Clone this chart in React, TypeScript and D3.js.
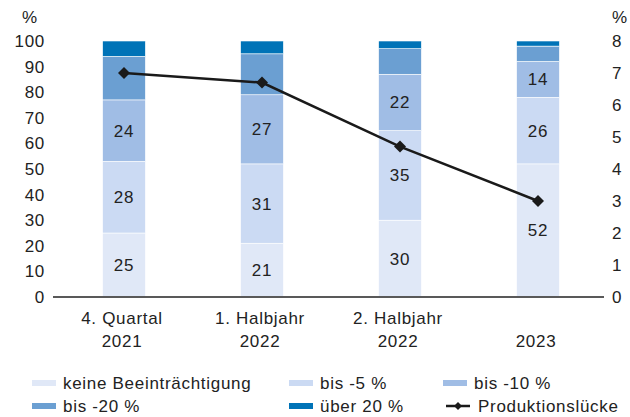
import { useEffect, useRef } from 'react';
import * as d3 from 'd3';

const categories = [['4. Quartal', '2021'], ['1. Halbjahr', '2022'], ['2. Halbjahr', '2022'], ['', '2023']];
const seriesNames = ['keine Beeinträchtigung', 'bis -5 %', 'bis -10 %', 'bis -20 %', 'über 20 %'];
const seriesColors = ['#e0e8f7', '#cbdaf3', '#a0bde5', '#6b9fd2', '#0073b7'];
const keine = [25, 21, 30, 52];
const bis5 = [28, 31, 35, 26];
const bis10 = [24, 27, 22, 14];
const bis20 = [17, 16, 10, 6];
const ueber20 = [6, 5, 3, 2];
const luecke = [7.0, 6.7, 4.7, 3.0];
const leftTicks = [0, 10, 20, 30, 40, 50, 60, 70, 80, 90, 100];
const rightTicks = [0, 1, 2, 3, 4, 5, 6, 7, 8];
const lineName = 'Produktionslücke';

const App = () => {
  const svgRef = useRef<SVGSVGElement>(null);

  useEffect(() => {
    const svg = d3.select(svgRef.current);
    svg.selectAll('*').remove();

    const width = 630;
    const height = 417;
    const font = '"Liberation Sans", Arial, sans-serif';
    const fs = 17;

    svg
      .attr('width', width)
      .attr('height', height)
      .style('font-family', font)
      .style('letter-spacing', '0.7px');

    const keys = categories.map((_, i) => String(i));
    const x = d3.scaleBand().domain(keys).range([55, 607]);
    const barW = x.bandwidth() * 0.31;
    const y = d3.scaleLinear().domain([0, 100]).range([297, 41]);
    const yR = d3.scaleLinear().domain([0, 8]).range([297, 41]);

    const series = [keine, bis5, bis10, bis20, ueber20];
    const rows = keys.map((k, i) => {
      const r: any = { key: k };
      series.forEach((s, j) => (r[j] = s[i]));
      return r;
    });
    const stack = d3.stack<any>().keys(series.map((_, j) => String(j)));
    const stacked = stack(rows);

    // Balken
    const groups = svg
      .selectAll('.layer')
      .data(stacked)
      .enter()
      .append('g')
      .attr('fill', (_, j) => seriesColors[j]);

    groups
      .selectAll('rect')
      .data(d => d)
      .enter()
      .append('rect')
      .attr('x', d => x(d.data.key)! + x.bandwidth() / 2 - barW / 2)
      .attr('width', barW)
      .attr('y', d => y(d[1]))
      .attr('height', d => y(d[0]) - y(d[1]))
      .attr('stroke', '#ffffff')
      .attr('stroke-width', 0.6);

    // Werte in den Balken
    stacked.slice(0, 3).forEach(layer => {
      svg
        .append('g')
        .selectAll('text')
        .data(layer)
        .enter()
        .append('text')
        .attr('x', d => x(d.data.key)! + x.bandwidth() / 2)
        .attr('y', d => y((d[0] + d[1]) / 2))
        .attr('dy', '0.35em')
        .attr('text-anchor', 'middle')
        .style('font-size', fs + 'px')
        .style('fill', '#222')
        .text(d => d[1] - d[0]);
    });

    // Grundlinie
    svg
      .append('line')
      .attr('x1', 53)
      .attr('x2', 604)
      .attr('y1', y(0))
      .attr('y2', y(0))
      .attr('stroke', '#595959')
      .attr('stroke-width', 2);

    // Achsen
    svg
      .append('g')
      .selectAll('text')
      .data(leftTicks)
      .enter()
      .append('text')
      .attr('x', 45)
      .attr('y', d => y(d))
      .attr('dy', '0.35em')
      .attr('text-anchor', 'end')
      .style('font-size', fs + 'px')
      .style('fill', '#222')
      .text(d => d);

    svg
      .append('g')
      .selectAll('text')
      .data(rightTicks)
      .enter()
      .append('text')
      .attr('x', 612)
      .attr('y', d => yR(d))
      .attr('dy', '0.35em')
      .attr('text-anchor', 'start')
      .style('font-size', fs + 'px')
      .style('fill', '#222')
      .text(d => d);

    svg.append('text').attr('x', 30).attr('y', 17).attr('dy', '0.35em').attr('text-anchor', 'middle')
      .style('font-size', fs + 'px').style('fill', '#222').text('%');
    svg.append('text').attr('x', 620).attr('y', 17).attr('dy', '0.35em').attr('text-anchor', 'middle')
      .style('font-size', fs + 'px').style('fill', '#222').text('%');

    // Kategorien
    const cat = svg
      .append('g')
      .selectAll('text')
      .data(categories)
      .enter()
      .append('text')
      .attr('text-anchor', 'middle')
      .style('font-size', fs + 'px')
      .style('fill', '#222');
    cat.append('tspan').attr('x', (_, i) => x(keys[i])! + x.bandwidth() / 2 - 2).attr('y', 324).text(d => d[0]);
    cat.append('tspan').attr('x', (_, i) => x(keys[i])! + x.bandwidth() / 2 - 2).attr('y', 347).text(d => d[1]);

    // Linie
    const line = d3
      .line<number>()
      .x((_, i) => x(keys[i])! + x.bandwidth() / 2)
      .y(d => yR(d));
    svg
      .append('path')
      .attr('d', line(luecke))
      .attr('fill', 'none')
      .attr('stroke', '#1a1a1a')
      .attr('stroke-width', 2.5);

    const diamond = d3.symbol().type(d3.symbolSquare).size(72);
    svg
      .append('g')
      .selectAll('path')
      .data(luecke)
      .enter()
      .append('path')
      .attr('d', diamond)
      .attr('transform', (d, i) => `translate(${x(keys[i])! + x.bandwidth() / 2},${yR(d)}) rotate(45)`)
      .attr('fill', '#1a1a1a');

    // Legende
    const colX = [32, 289, 443];
    const rowY = [383, 406];
    seriesNames.forEach((name, j) => {
      const cx = colX[j % 3];
      const cy = rowY[Math.floor(j / 3)];
      svg.append('rect').attr('x', cx).attr('y', cy - 3).attr('width', 24).attr('height', 6).attr('fill', seriesColors[j]);
      svg.append('text').attr('x', cx + 31).attr('y', cy).attr('dy', '0.35em')
        .style('font-size', fs + 'px').style('fill', '#222').text(name);
    });
    const lx = 446;
    const ly = rowY[1];
    svg.append('line').attr('x1', lx).attr('x2', lx + 24).attr('y1', ly).attr('y2', ly)
      .attr('stroke', '#1a1a1a').attr('stroke-width', 2.5);
    svg.append('path').attr('d', d3.symbol().type(d3.symbolSquare).size(32)())
      .attr('transform', `translate(${lx + 12},${ly}) rotate(45)`).attr('fill', '#1a1a1a');
    svg.append('text').attr('x', lx + 32).attr('y', ly).attr('dy', '0.35em')
      .style('font-size', fs + 'px').style('fill', '#222').text(lineName);
  }, []);

  return (
    <div style={{ position: 'absolute', left: 0, top: 0 }}>
      <svg ref={svgRef}></svg>
    </div>
  );
};

export default App;
